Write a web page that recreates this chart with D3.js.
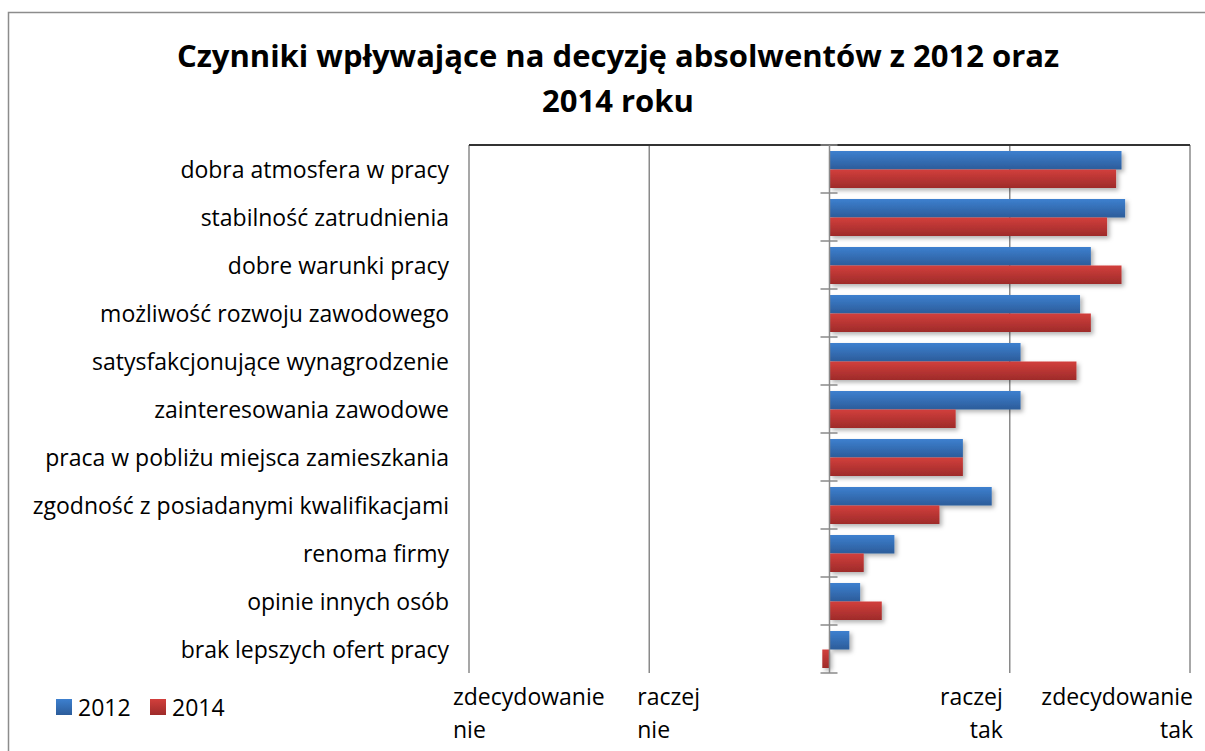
<!DOCTYPE html>
<html>
<head>
<meta charset="utf-8">
<script src="https://cdn.jsdelivr.net/npm/d3@7"></script>
<style>
  html, body { margin: 0; padding: 0; background: #fff; }
  svg { display: block; }
  text { font-family: "Open Sans", "Noto Sans", sans-serif; fill: #000; }
</style>
</head>
<body>
<svg id="chart" width="1205" height="751"></svg>
<script>
// ---- data ----
const categories = [
  "dobra atmosfera w pracy",
  "stabilność zatrudnienia",
  "dobre warunki pracy",
  "możliwość rozwoju zawodowego",
  "satysfakcjonujące wynagrodzenie",
  "zainteresowania zawodowe",
  "praca w pobliżu miejsca zamieszkania",
  "zgodność z posiadanymi kwalifikacjami",
  "renoma firmy",
  "opinie innych osób",
  "brak lepszych ofert pracy"
];
const seriesNames = ["2012", "2014"];
const values2012 = [1.62, 1.64, 1.45, 1.39, 1.06, 1.06, 0.74, 0.90, 0.36, 0.17, 0.11];
const values2014 = [1.59, 1.54, 1.62, 1.45, 1.37, 0.70, 0.74, 0.61, 0.19, 0.29, -0.04];
const tickValues = [-2, -1, 1, 2];
const tickLabels = [["zdecydowanie", "nie"], ["raczej", "nie"], ["raczej", "tak"], ["zdecydowanie", "tak"]];
const titleLines = ["Czynniki wpływające na decyzję absolwentów z 2012 oraz", "2014 roku"];

const svg = d3.select("#chart");

// gradients & shadow
const defs = svg.append("defs");
const grads = [
  {id: "g2012", top: "#3d80cf", bottom: "#2c5c9a"},
  {id: "g2014", top: "#d23f3c", bottom: "#9e2b2a"}
];
grads.forEach(g => {
  const lg = defs.append("linearGradient").attr("id", g.id)
    .attr("x1", 0).attr("y1", 0).attr("x2", 0).attr("y2", 1);
  lg.append("stop").attr("offset", "0%").attr("stop-color", g.top);
  lg.append("stop").attr("offset", "100%").attr("stop-color", g.bottom);
});
const f = defs.append("filter").attr("id", "shadow")
  .attr("x", "-10%").attr("y", "-30%").attr("width", "130%").attr("height", "180%");
f.append("feDropShadow").attr("dx", 2.5).attr("dy", 2.5).attr("stdDeviation", 2)
  .attr("flood-color", "#000").attr("flood-opacity", 0.3);

// outer border
svg.append("rect").attr("x", 8.5).attr("y", 12.5).attr("width", 1210).attr("height", 760)
  .attr("fill", "none").attr("stroke", "#8c8c8c").attr("stroke-width", 1.5);

// title
svg.append("text").attr("x", 618).attr("y", 67).attr("text-anchor", "middle")
  .style("font-weight", "bold").style("font-size", "31px").text(titleLines[0]);
svg.append("text").attr("x", 618).attr("y", 112).attr("text-anchor", "middle")
  .style("font-weight", "bold").style("font-size", "31px").text(titleLines[1]);

// scales
const x = d3.scaleLinear().domain([-2, 2]).range([469, 1190]);
const y = d3.scaleBand().domain(categories).range([145, 673]).padding(0);
const ySub = d3.scaleBand().domain(seriesNames).range([6, 43]).padding(0);

// gridlines
svg.append("g").selectAll("line").data(tickValues).join("line")
  .attr("x1", d => x(d)).attr("x2", d => x(d))
  .attr("y1", 145).attr("y2", 673)
  .attr("stroke", "#8a8a8a").attr("stroke-width", 1.5);

// bars
const rows = categories.map((c, i) => ({cat: c, vals: [values2012[i], values2014[i]]}));
const gBars = svg.append("g").attr("filter", "url(#shadow)");
rows.forEach(r => {
  r.vals.forEach((v, j) => {
    const s = seriesNames[j];
    gBars.append("rect")
      .attr("x", x(Math.min(0, v)))
      .attr("y", y(r.cat) + ySub(s))
      .attr("width", Math.abs(x(v) - x(0)))
      .attr("height", ySub.bandwidth())
      .attr("fill", `url(#g${s})`);
  });
});

// top line
svg.append("line").attr("x1", 469).attr("x2", 1190).attr("y1", 145).attr("y2", 145)
  .attr("stroke", "#333").attr("stroke-width", 2);

// category axis at zero
const yAxis = svg.append("g");
yAxis.append("line").attr("x1", x(0)).attr("x2", x(0)).attr("y1", 145).attr("y2", 673)
  .attr("stroke", "#8a8a8a").attr("stroke-width", 1.5);
const boundaries = categories.map(c => y(c)).concat([y.range()[1]]);
yAxis.selectAll("line.tick").data(boundaries).join("line").attr("class", "tick")
  .attr("x1", x(0) - 9).attr("x2", x(0) + 8)
  .attr("y1", d => d).attr("y2", d => d)
  .attr("stroke", "#8a8a8a").attr("stroke-width", 1.5);

// category labels
svg.append("g").selectAll("text").data(categories).join("text")
  .attr("x", 449).attr("y", d => y(d) + y.bandwidth() / 2)
  .attr("text-anchor", "end").attr("dominant-baseline", "central")
  .style("font-size", "23px").text(d => d);

// value axis labels
const labelPos = [
  {anchor: "start", dx: -16},
  {anchor: "start", dx: -12},
  {anchor: "end", dx: -7},
  {anchor: "end", dx: 3}
];
tickValues.forEach((t, i) => {
  const lp = labelPos[i];
  const tx = svg.append("text").attr("text-anchor", lp.anchor).style("font-size", "23px");
  tickLabels[i].forEach((line, k) => {
    tx.append("tspan").attr("x", x(t) + lp.dx).attr("y", 705 + k * 33).text(line);
  });
});

// legend
const leg = svg.append("g");
[{s: "2012", x0: 56}, {s: "2014", x0: 150}].forEach(l => {
  leg.append("rect").attr("x", l.x0).attr("y", 699).attr("width", 16).attr("height", 16)
    .attr("fill", `url(#g${l.s})`);
  leg.append("text").attr("x", l.x0 + 22).attr("y", 716).style("font-size", "23px").text(l.s);
});
</script>
</body>
</html>
